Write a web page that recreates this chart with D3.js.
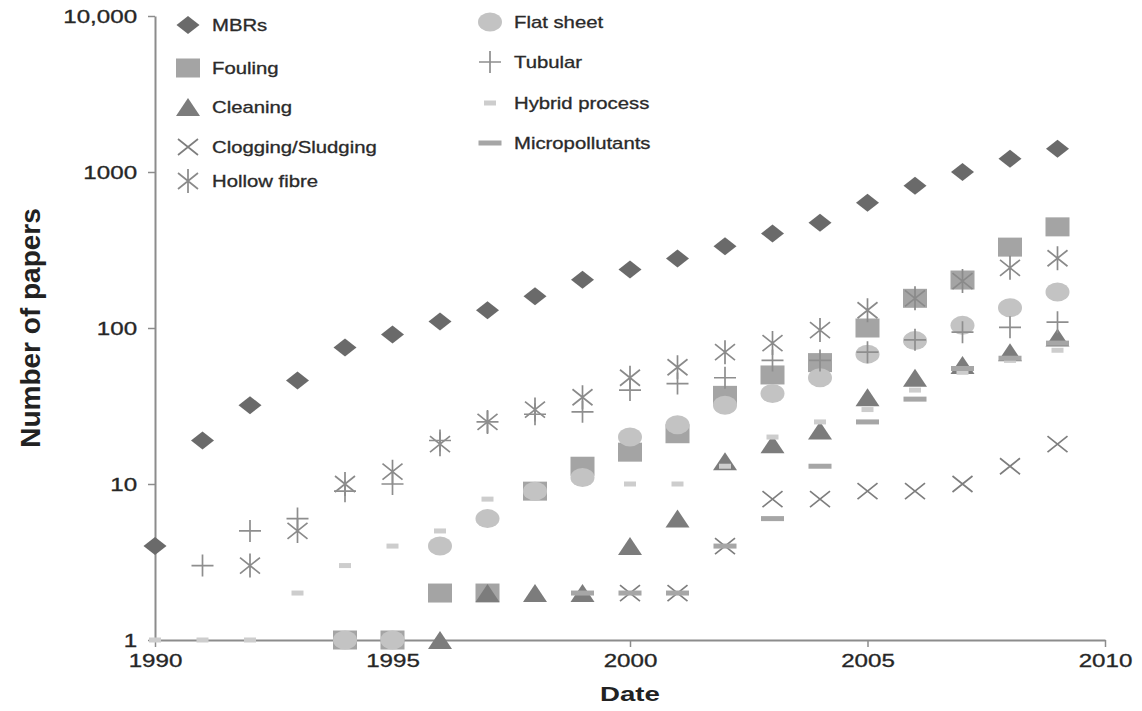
<!DOCTYPE html>
<html>
<head>
<meta charset="utf-8">
<script src="https://cdn.jsdelivr.net/npm/d3@7"></script>
<style>
  body { margin: 0; background: #fff; }
  text { font-family: "Liberation Sans", Arial, sans-serif; }
</style>
</head>
<body>
<div class="content"></div>
<script>
// values (null = no point)
const years = [1990, 1991, 1992, 1993, 1994, 1995, 1996, 1997, 1998, 1999,
               2000, 2001, 2002, 2003, 2004, 2005, 2006, 2007, 2008, 2009];
const mbrs        = [4, 19, 32, 46, 75, 91, 110, 130, 160, 204, 237, 279, 334, 403, 473, 636, 815, 1000, 1216, 1410];
const fouling     = [null, null, null, null, 1, 1, 2, 2, 9, 13, 16, 21, 37, 50, 60, 100, 155, 203, 330, 445];
const cleaning    = [null, null, null, null, null, null, 1, 2, 2, 2, 4, 6, 14, 18, 22, 36, 48, 58, 70, 87];
const clogging    = [null, null, null, null, null, null, null, null, null, null, 2, 2, 4, 8, 8, 9, 9, 10, 13, 18];
const hollowFibre = [null, null, 3, 5, 10, 12, 18, 25, 30, 36, 48, 56, 70, 80, 97, 130, 155, 200, 243, 280];
const flatSheet   = [null, null, null, null, 1, 1, 4, 6, 9, 11, 20, 24, 32, 38, 48, 68, 83, 104, 135, 170];
const tubular     = [null, 3, 5, 6, 9, 10, 19, 25, 28, 29, 40, 44, 48, 62, 62, 70, 84, 94, 101, 109];
const hybrid      = [1, 1, 1, 2, 3, 4, 5, 8, null, null, 10, 10, 13, 20, 25, 30, 40, 52, 62, 72];
const micro       = [null, null, null, null, null, null, null, null, null, 2, 2, 2, 4, 6, 13, 25, 35, 55, 64, 80];

const yTicks = [1, 10, 100, 1000, 10000];
const yTickLabels = ['1', '10', '100', '1000', '10,000'];
const xTicks = [1990, 1995, 2000, 2005, 2010];

// marker drawers, centred on 0,0
const shapes = {
  diamond: (g, c) => g.append('path').attr('d', 'M-11.5,0L0,-9L11.5,0L0,9Z').attr('fill', c),
  square: (g, c) => g.append('rect').attr('x', -12).attr('y', -9.5).attr('width', 24).attr('height', 19).attr('fill', c),
  triangle: (g, c) => g.append('path').attr('d', 'M-12,9L0,-9L12,9Z').attr('fill', c),
  cross: (g, c) => g.append('path').attr('d', 'M-10,-8L10,8M-10,8L10,-8')
                    .attr('stroke', c).attr('stroke-width', 1.7).attr('fill', 'none'),
  asterisk: (g, c) => g.append('path').attr('d', 'M-10,-8L10,8M-10,8L10,-8M0,-12L0,12')
                    .attr('stroke', c).attr('stroke-width', 1.7).attr('fill', 'none'),
  circle: (g, c) => g.append('ellipse').attr('rx', 12).attr('ry', 9.5).attr('fill', c),
  plus: (g, c) => g.append('path').attr('d', 'M-11,0L11,0M0,-11L0,11')
                    .attr('stroke', c).attr('stroke-width', 1.7).attr('fill', 'none'),
  shortDash: (g, c) => g.append('rect').attr('x', -6).attr('y', -2.5).attr('width', 12).attr('height', 5).attr('fill', c),
  longDash: (g, c) => g.append('rect').attr('x', -11.5).attr('y', -2.5).attr('width', 23).attr('height', 5).attr('fill', c)
};

// drawing order (back to front)
const series = [
  { name: 'Fouling', values: fouling, shape: 'square', color: '#a4a4a4' },
  { name: 'Flat sheet', values: flatSheet, shape: 'circle', color: '#c3c3c3' },
  { name: 'Cleaning', values: cleaning, shape: 'triangle', color: '#7c7c7c' },
  { name: 'MBRs', values: mbrs, shape: 'diamond', color: '#6a6a6a' },
  { name: 'Clogging/Sludging', values: clogging, shape: 'cross', color: '#7e7e7e' },
  { name: 'Hollow fibre', values: hollowFibre, shape: 'asterisk', color: '#8a8a8a' },
  { name: 'Tubular', values: tubular, shape: 'plus', color: '#8e8e8e' },
  { name: 'Hybrid process', values: hybrid, shape: 'shortDash', color: '#cdcdcd' },
  { name: 'Micropollutants', values: micro, shape: 'longDash', color: '#a6a6a6' }
];

const legendLeft = ['MBRs', 'Fouling', 'Cleaning', 'Clogging/Sludging', 'Hollow fibre'];
const legendRight = ['Flat sheet', 'Tubular', 'Hybrid process', 'Micropollutants'];

const width = 1142, height = 711;
const svg = d3.select('div.content').append('svg')
              .attr('width', width).attr('height', height);

const x = d3.scaleLinear().domain([1990, 2010]).range([155, 1105]);
const y = d3.scaleLog().domain([1, 10000]).range([640, 16]);

const TX = 1.38; // horizontal stretch of the printed type

// axes
const yAxis = d3.axisLeft(y).tickValues(yTicks)
                .tickFormat((d, i) => yTickLabels[i])
                .tickSizeInner(7).tickSizeOuter(0).tickPadding(6);
const xAxis = d3.axisBottom(x).tickValues(xTicks).tickFormat(d3.format('d'))
                .tickSizeInner(7).tickSizeOuter(0).tickPadding(8);

const gy = svg.append('g').attr('transform', 'translate(155,0)').call(yAxis);
const gx = svg.append('g').attr('transform', 'translate(0,640)').call(xAxis);

[gx, gy].forEach((g) => {
  g.select('.domain').attr('stroke', '#8c8c8c').attr('stroke-width', 2);
  g.selectAll('.tick line').attr('stroke', '#8c8c8c').attr('stroke-width', 1.5);
  g.selectAll('.tick text')
   .attr('fill', '#262626')
   .attr('stroke', '#262626').attr('stroke-width', 0.3)
   .style('font-size', '17.5px')
   .attr('transform', `scale(${TX},1)`);
});
gy.selectAll('.tick text').attr('dy', '0.36em');

// marks
series.forEach((s) => {
  const pts = years.map((yr, i) => ({ yr, v: s.values[i] })).filter((p) => p.v != null);
  svg.append('g').attr('class', 'series')
     .selectAll('g.pt')
     .data(pts)
     .enter()
     .append('g')
     .attr('class', 'pt')
     .attr('transform', (d) => `translate(${x(d.yr)},${y(d.v)})`)
     .each(function () { shapes[s.shape](d3.select(this), s.color); });
});

// legend
const byName = {};
series.forEach((s) => { byName[s.name] = s; });

const drawLegend = (names, mx, tx, rows) => {
  names.forEach((n, i) => {
    const s = byName[n];
    const g = svg.append('g').attr('transform', `translate(${mx},${rows[i]})`);
    shapes[s.shape](g, s.color);
    svg.append('text')
       .attr('transform', `translate(${tx},${rows[i] + 6}) scale(${TX * 0.92},1)`)
       .attr('fill', '#2a2a2a')
       .attr('stroke', '#2a2a2a').attr('stroke-width', 0.3)
       .style('font-size', '16px')
       .text(n);
  });
};
drawLegend(legendLeft, 188, 212, [25, 68, 107, 147, 181]);
drawLegend(legendRight, 490, 514, [22, 62, 103, 143]);

// axis titles
svg.append('text')
   .attr('transform', `translate(630,701) scale(${TX},1)`)
   .attr('text-anchor', 'middle')
   .attr('fill', '#222')
   .style('font-size', '20px').style('font-weight', 'bold')
   .text('Date');

svg.append('text')
   .attr('transform', 'translate(40,328) rotate(-90)')
   .attr('text-anchor', 'middle')
   .attr('fill', '#222')
   .style('font-size', '28px').style('font-weight', 'bold')
   .text('Number of papers');
</script>
</body>
</html>
